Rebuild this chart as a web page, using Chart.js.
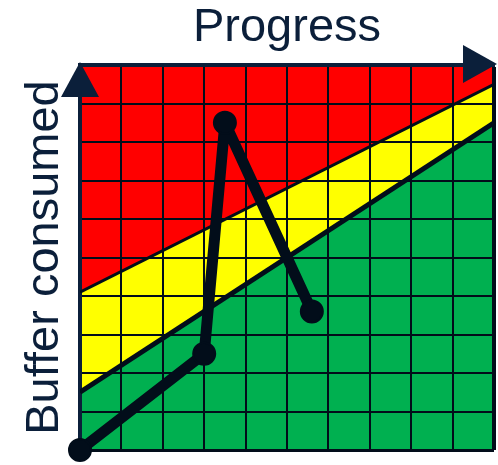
<!DOCTYPE html>
<html>
<head>
<meta charset="utf-8">
<script src="https://cdn.jsdelivr.net/npm/chart.js@4"></script>
<style>
  html, body { margin: 0; padding: 0; background: #fff; }
  #wrap { width: 498px; height: 465px; }
</style>
</head>
<body>
<div id="wrap"><canvas id="bufferChart"></canvas></div>
<script>
// zone boundaries (progress, buffer consumed)
var upperLine = [{x: 0, y: 4.1}, {x: 10, y: 9.5}];
var lowerLine = [{x: 0, y: 1.5}, {x: 10, y: 8.5}];
// project track
var trackX = [0, 3, 3.5, 5.6];
var trackY = [0, 2.5, 8.5, 3.6];

var navy = '#0b1f3a';
var ink = '#020d1a';
var track = trackX.map(function(x, i) { return {x: x, y: trackY[i]}; });

var arrows = {
    id: 'arrows',
    afterDraw: function(chart) {
        var a = chart.chartArea, c = chart.ctx;
        c.save();
        c.fillStyle = navy;
        c.beginPath();
        c.moveTo(a.left, a.top - 3);
        c.lineTo(a.left + 19, a.top + 32);
        c.lineTo(a.left - 19, a.top + 32);
        c.closePath();
        c.fill();
        c.beginPath();
        c.moveTo(a.right + 3, a.top - 1);
        c.lineTo(a.right - 31, a.top - 20);
        c.lineTo(a.right - 31, a.top + 18);
        c.closePath();
        c.fill();
        c.restore();
    }
};

var ctx = document.getElementById('bufferChart');
new Chart(ctx, {
    type: 'scatter',
    data: {
        datasets: [
            {
                label: 'Red zone',
                data: upperLine,
                showLine: true,
                fill: 'end',
                backgroundColor: '#FF0000',
                borderColor: ink,
                borderWidth: 3,
                pointRadius: 0,
                order: 2
            },
            {
                label: 'Green zone',
                data: lowerLine,
                showLine: true,
                fill: 'start',
                backgroundColor: '#00B050',
                borderColor: ink,
                borderWidth: 5,
                pointRadius: 0,
                order: 1
            },
            {
                label: 'Yellow zone',
                data: lowerLine.slice(),
                showLine: true,
                fill: 'end',
                backgroundColor: '#FFFF00',
                borderWidth: 0,
                pointRadius: 0,
                order: 3
            },
            {
                label: 'Buffer',
                data: track,
                showLine: true,
                borderColor: ink,
                borderWidth: 11,
                borderJoinStyle: 'round',
                borderCapStyle: 'round',
                pointRadius: 11,
                pointBorderWidth: 2,
                pointBackgroundColor: ink,
                pointBorderColor: ink,
                clip: false,
                order: 0
            }
        ]
    },
    options: {
        responsive: true,
        maintainAspectRatio: false,
        animation: false,
        layout: { autoPadding: false, padding: { top: 0, left: 0, right: 4, bottom: 15 } },
        plugins: {
            legend: { display: false },
            tooltip: { enabled: false },
            filler: { drawTime: 'beforeDraw' }
        },
        scales: {
            x: {
                position: 'top',
                min: 0,
                max: 10,
                ticks: { display: false, stepSize: 1 },
                grid: {
                    color: ink,
                    lineWidth: function(c) { return c.tick && c.tick.value === 10 ? 4 : 2; },
                    drawTicks: false
                },
                border: { display: true, color: navy, width: 4 },
                title: {
                    display: true,
                    text: 'Progress',
                    color: navy,
                    font: { family: 'Liberation Sans, Arial, sans-serif', size: 47 },
                    padding: { top: 0, bottom: 8.6 }
                }
            },
            y: {
                min: 0,
                max: 10,
                ticks: { display: false, stepSize: 1 },
                grid: {
                    color: ink,
                    lineWidth: function(c) { return c.tick && c.tick.value === 0 ? 3 : 2; },
                    drawTicks: false
                },
                border: { display: true, color: navy, width: 4 },
                title: {
                    display: true,
                    text: 'Buffer consumed',
                    color: navy,
                    font: { family: 'Liberation Sans, Arial, sans-serif', size: 47 },
                    padding: { top: 17, bottom: 6.6 }
                }
            }
        }
    },
    plugins: [arrows]
});
</script>
</body>
</html>
